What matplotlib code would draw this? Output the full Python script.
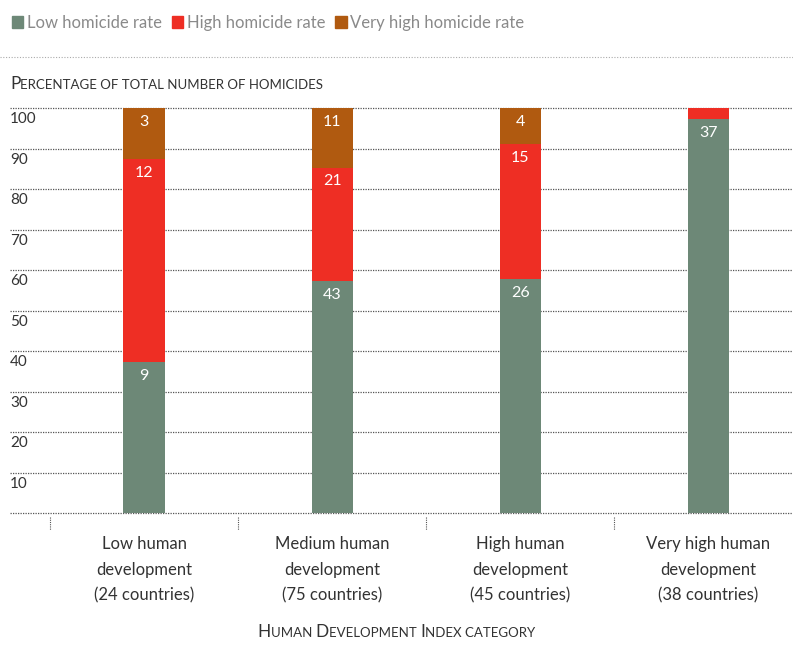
import matplotlib
matplotlib.use("Agg")
import matplotlib.pyplot as plt
from matplotlib.patches import Patch
from matplotlib.lines import Line2D

plt.rcParams['font.family'] = ['Lato', 'DejaVu Sans']

categories = ['Low human\ndevelopment\n(24 countries)',
              'Medium human\ndevelopment\n(75 countries)',
              'High human\ndevelopment\n(45 countries)',
              'Very high human\ndevelopment\n(38 countries)']
series = ['Low homicide rate', 'High homicide rate', 'Very high homicide rate']
# percentage of total number of homicides
low_pct = [37.3, 57.3, 57.8, 97.3]
high_pct = [50.1, 28.0, 33.4, 2.7]
vhigh_pct = [12.6, 14.7, 8.8, 0.0]
# number of countries in each segment
low_n = [9, 43, 26, 37]
high_n = [12, 21, 15, 1]
vhigh_n = [3, 11, 4, 0]

colors = ['#6d8877', '#ee2e24', '#b05a10']

fig = plt.figure(figsize=(7.93, 6.46), dpi=100)
ax = fig.add_axes([10/793, 133/646, 783/793, 405/646])

x = list(range(len(categories)))
bottom = [0.0] * len(x)
for vals, counts, col in zip([low_pct, high_pct, vhigh_pct], [low_n, high_n, vhigh_n], colors):
    ax.bar(x, vals, bottom=bottom, width=0.22, color=col, zorder=2)
    for i in x:
        if vals[i] > 5:
            top = bottom[i] + vals[i]
            ax.annotate(str(counts[i]), (i, top), xytext=(0, -5), textcoords='offset points',
                        ha='center', va='top', color='white', fontsize=11.5, zorder=3)
    bottom = [b + v for b, v in zip(bottom, vals)]

ax.set_xlim(-0.713, 3.45)
ax.set_ylim(0, 100)
for y in range(0, 101, 10):
    ax.axhline(y, color='#555555', lw=0.9, ls=(0, (1, 1)), zorder=1, clip_on=False)
    if y > 0:
        ax.annotate(str(y), (-0.713, y), xytext=(0, -3), textcoords='offset points',
                    ha='left', va='top', fontsize=11, color='#333333')
for b in [-0.5, 0.5, 1.5, 2.5]:
    ax.plot([b, b], [-1, -4.2], color='#555555', lw=0.8, ls=(0, (1, 1)), clip_on=False)
for i, lab in enumerate(categories):
    ax.text(i, -5.7, lab, ha='center', va='top', fontsize=12, color='#333333', linespacing=1.75)

for s in ax.spines.values():
    s.set_visible(False)
ax.set_xticks([])
ax.set_yticks([])


def small_caps(x, y, text, big=12.5, small=9.5, color='#333333', center=False):
    # fake small caps: capitals big, everything else upper-cased and small
    parts = []
    cur = ''
    kind = None
    for ch in text:
        k = kind if ch == ' ' else ch.isupper()
        if cur and k != kind:
            parts.append((cur, kind))
            cur = ''
        cur += ch
        kind = k
    parts.append((cur, kind))
    renderer = fig.canvas.get_renderer()
    objs = []
    pos = x
    for p, big_kind in parts:
        size = big if big_kind else small
        t = fig.text(pos, y, p.upper(), fontsize=size, color=color, va='baseline', ha='left')
        bb = t.get_window_extent(renderer)
        pos += bb.width / fig.bbox.width
        objs.append(t)
    if center:
        shift = (pos - x) / 2
        for t in objs:
            tx, ty = t.get_position()
            t.set_position((tx - shift, ty))


small_caps(10/793, 1 - 89/646, 'Percentage of total number of homicides')
small_caps(0.5, 1 - 637/646, 'Human Development Index category', center=True)

handles = [Patch(color=c) for c in colors]
leg = fig.legend(handles, series, loc='upper left', bbox_to_anchor=(0.0, 0.995), ncol=3,
                 frameon=False, handlelength=0.7, handleheight=0.7, handletextpad=0.2,
                 columnspacing=0.6, fontsize=12, borderaxespad=0.3)
for t in leg.get_texts():
    t.set_color('#8a8a8a')

fig.add_artist(Line2D([0, 1], [1 - 57/646] * 2, color='#aaaaaa', lw=0.8, ls=(0, (1, 1.5))))

fig.savefig('out.png', dpi=100)
